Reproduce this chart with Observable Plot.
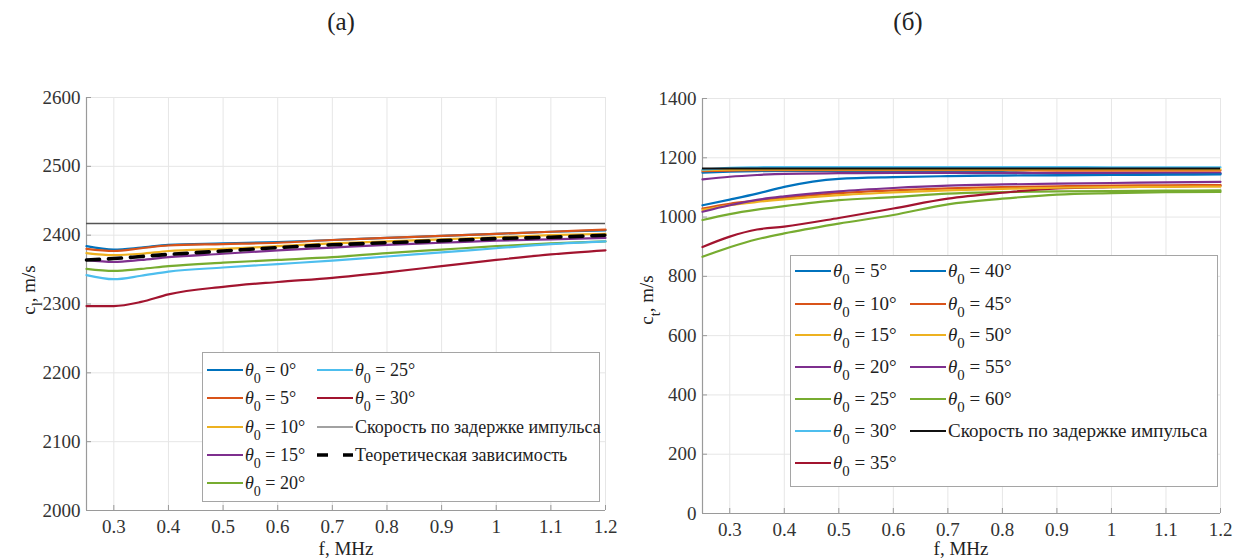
<!DOCTYPE html>
<html>
<head>
<meta charset="utf-8">
<script src="https://cdn.jsdelivr.net/npm/d3@7"></script>
<script src="https://cdn.jsdelivr.net/npm/@observablehq/plot@0.6"></script>
<style>
  body { margin: 0; background: #fff; }
  #root { position: relative; width: 1238px; height: 560px; overflow: hidden;
          font-family: 'Liberation Serif', 'DejaVu Serif', serif; color: #222; }
  .panel { position: absolute; top: 80px; }
  .title { position: absolute; top: 8px; font-size: 25px; transform: translateX(-50%); }
  .ylab { position: absolute; font-size: 19px; white-space: nowrap;
          transform: translate(-50%, -50%) rotate(-90deg); }
  .xlab { position: absolute; font-size: 19px; transform: translateX(-50%); white-space: nowrap; }
  .legend { position: absolute; background: #fff; border: 1.5px solid #a5a5a5; box-sizing: border-box; }
  .item { position: absolute; display: flex; align-items: center; height: 28px;
          white-space: nowrap; color: #222; }
  .item svg { margin-right: 2px; flex: none; }
  sub { font-size: 0.78em; vertical-align: -0.5em; line-height: 0; }
</style>
</head>
<body>
<div id="root"></div>
<script>
// Frequency grid (MHz) shared by every curve
const freq = [0.25, 0.3, 0.35, 0.4, 0.5, 0.6, 0.7, 0.8, 0.9, 1.0, 1.1, 1.2];

// (а) longitudinal velocity c_l, m/s, per incidence angle θ0
const cl_0  = [2384, 2379, 2382, 2386, 2388, 2390, 2393, 2396, 2399, 2402, 2405, 2407];
const cl_5  = [2380, 2377, 2381, 2385, 2387, 2389, 2393, 2396, 2399, 2402, 2405, 2408];
const cl_10 = [2374, 2371, 2373, 2377, 2380, 2384, 2388, 2391, 2394, 2397, 2400, 2402];
const cl_15 = [2364, 2361, 2364, 2368, 2373, 2378, 2382, 2386, 2389, 2392, 2394, 2396];
const cl_20 = [2351, 2348, 2351, 2355, 2360, 2364, 2368, 2374, 2379, 2384, 2388, 2391];
const cl_25 = [2342, 2336, 2341, 2347, 2353, 2358, 2363, 2369, 2375, 2381, 2387, 2391];
const cl_30 = [2297, 2297, 2303, 2314, 2325, 2332, 2338, 2346, 2355, 2364, 2372, 2378];
const cl_theory = [2364, 2366, 2369, 2372, 2377, 2382, 2386, 2389, 2392, 2395, 2397, 2400];
const cl_pulse = 2417;

// (б) shear velocity c_t, m/s, per incidence angle θ0
const ct_5  = [1150, 1153, 1155, 1156, 1156, 1155, 1154, 1152, 1146, 1142, 1145, 1147];
const ct_10 = [1155, 1157, 1158, 1158, 1158, 1158, 1158, 1158, 1157, 1157, 1157, 1157];
const ct_15 = [1158, 1160, 1161, 1161, 1161, 1161, 1161, 1161, 1161, 1161, 1161, 1161];
const ct_20 = [1127, 1136, 1142, 1146, 1148, 1149, 1149, 1148, 1148, 1148, 1148, 1148];
const ct_25 = [990, 1010, 1025, 1037, 1057, 1067, 1079, 1084, 1087, 1088, 1089, 1090];
const ct_30 = [1160, 1166, 1168, 1169, 1169, 1169, 1169, 1169, 1169, 1168, 1168, 1168];
const ct_35 = [899, 934, 958, 968, 997, 1029, 1062, 1082, 1097, 1101, 1103, 1106];
const ct_40 = [1040, 1059, 1079, 1102, 1129, 1135, 1138, 1140, 1141, 1142, 1143, 1144];
const ct_45 = [1029, 1045, 1055, 1065, 1081, 1090, 1097, 1101, 1104, 1106, 1107, 1108];
const ct_50 = [1024, 1040, 1051, 1060, 1074, 1083, 1090, 1095, 1099, 1101, 1102, 1103];
const ct_55 = [1018, 1040, 1058, 1070, 1087, 1098, 1106, 1110, 1113, 1115, 1117, 1119];
const ct_60 = [866, 898, 925, 945, 978, 1007, 1043, 1062, 1076, 1081, 1084, 1085];
const ct_pulse = 1164;

// Axis ticks
const xTicks = [0.3, 0.4, 0.5, 0.6, 0.7, 0.8, 0.9, 1.0, 1.1, 1.2];
const yTicksL = [2000, 2100, 2200, 2300, 2400, 2500, 2600];
const yTicksR = [0, 200, 400, 600, 800, 1000, 1200, 1400];

// MATLAB default line colours
const palette = ["#0072BD", "#D95319", "#EDB120", "#7E2F8E", "#77AC30", "#4DBEEE", "#A2142F"];

const seriesL = [
  {angle: 0, values: cl_0}, {angle: 5, values: cl_5}, {angle: 10, values: cl_10},
  {angle: 15, values: cl_15}, {angle: 20, values: cl_20}, {angle: 25, values: cl_25},
  {angle: 30, values: cl_30}
].map((s, i) => ({...s, color: palette[i % 7]}));

const seriesR = [
  {angle: 5, values: ct_5}, {angle: 10, values: ct_10}, {angle: 15, values: ct_15},
  {angle: 20, values: ct_20}, {angle: 25, values: ct_25}, {angle: 30, values: ct_30},
  {angle: 35, values: ct_35}, {angle: 40, values: ct_40}, {angle: 45, values: ct_45},
  {angle: 50, values: ct_50}, {angle: 55, values: ct_55}, {angle: 60, values: ct_60}
].map((s, i) => ({...s, color: palette[i % 7]}));

const rows = (vals) => freq.map((f, i) => ({f, c: vals[i]}));
const fmt = d => String(+d.toFixed(2));
const FONT = "'Liberation Serif', 'DejaVu Serif', serif";

function panel({width, height, margin, yDomain, yTicks, series, extra}) {
  const innerW = width - margin.left - margin.right;
  const innerH = height - margin.top - margin.bottom;
  return Plot.plot({
    width, height,
    marginLeft: margin.left, marginRight: margin.right,
    marginTop: margin.top, marginBottom: margin.bottom,
    x: {domain: [0.25, 1.2]},
    y: {domain: yDomain},
    style: {fontFamily: FONT, fontSize: "19px", color: "#333", background: "transparent"},
    marks: [
      Plot.gridX(xTicks, {stroke: "#e6e6e6", strokeOpacity: 1}),
      Plot.gridY(yTicks, {stroke: "#e6e6e6", strokeOpacity: 1}),
      Plot.ruleX([0.25], {stroke: "#9a9a9a", strokeWidth: 1.2}),
      Plot.ruleY([yDomain[0]], {stroke: "#9a9a9a", strokeWidth: 1.2}),
      Plot.tickX(xTicks, {x: d => d, insetTop: innerH - 5, stroke: "#9a9a9a"}),
      Plot.tickY(yTicks, {y: d => d, insetRight: innerW - 5, stroke: "#9a9a9a"}),
      Plot.axisX(xTicks, {tickSize: 0, tickPadding: 9, label: null, tickFormat: fmt, fontFamily: FONT}),
      Plot.axisY(yTicks, {tickSize: 0, tickPadding: 6, label: null, tickFormat: d => String(d), fontFamily: FONT}),
      ...extra.before,
      ...series.map(s => Plot.line(rows(s.values), {
        x: "f", y: "c", stroke: s.color, strokeWidth: 2.2, curve: "monotone-x"
      })),
      ...extra.after
    ]
  });
}

const root = document.getElementById("root");

// (а)
const left = panel({
  width: 619, height: 480,
  margin: {left: 86, right: 14, top: 17, bottom: 50},
  yDomain: [2000, 2600], yTicks: yTicksL, series: seriesL,
  extra: {
    before: [Plot.ruleY([cl_pulse], {stroke: "#555", strokeWidth: 1.6})],
    after: [Plot.line(rows(cl_theory), {x: "f", y: "c", stroke: "#000", strokeWidth: 3.6,
      strokeDasharray: "13,9", curve: "monotone-x"})]
  }
});
left.classList.add("panel");
left.style.left = "0px";
root.appendChild(left);

// (б)
const right = panel({
  width: 619, height: 480,
  margin: {left: 83, right: 18, top: 18, bottom: 47},
  yDomain: [0, 1400], yTicks: yTicksR, series: seriesR,
  extra: {
    before: [],
    after: [Plot.ruleY([ct_pulse], {stroke: "#111", strokeWidth: 2})]
  }
});
right.classList.add("panel");
right.style.left = "619px";
root.appendChild(right);

// Titles and axis labels
function addDiv(cls, html, style) {
  const d = document.createElement("div");
  d.className = cls;
  d.innerHTML = html;
  Object.assign(d.style, style);
  root.appendChild(d);
  return d;
}
addDiv("title", "(а)", {left: "341px"});
addDiv("title", "(б)", {left: "908px"});
addDiv("ylab", "c<sub>l</sub>, m/s", {left: "29px", top: "290px"});
addDiv("ylab", "c<sub>t</sub>, m/s", {left: "647px", top: "300px"});
addDiv("xlab", "f, MHz", {left: "346px", top: "538px"});
addDiv("xlab", "f, MHz", {left: "961px", top: "538px"});

// Legends
const thetaLabel = a => `<i>θ</i><sub>0</sub>&nbsp;= ${a}°`;
function swatch(color, width, dash) {
  return `<svg width="36" height="10"><line x1="0" x2="36" y1="5" y2="5" stroke="${color}" stroke-width="${width}"${dash ? ` stroke-dasharray="${dash}"` : ""}/></svg>`;
}
function legend(box, entries) {
  const el = addDiv("legend", "", {left: box.left + "px", top: box.top + "px",
    width: box.width + "px", height: box.height + "px"});
  entries.forEach(e => {
    const it = document.createElement("div");
    it.className = "item";
    it.style.fontSize = box.fontSize + "px";
    it.innerHTML = swatch(e.color, e.width || 2.2, e.dash) + `<span>${e.label}</span>`;
    it.style.left = box.cols[e.col] + "px";
    it.style.top = (box.rows[e.row] - 14) + "px";
    el.appendChild(it);
  });
}

legend({left: 202, top: 352, width: 398, height: 150, fontSize: 18,
        cols: [4, 114], rows: [17, 45, 74, 102, 130]}, [
  ...seriesL.map((s, i) => ({label: thetaLabel(s.angle), color: s.color,
    col: i < 5 ? 0 : 1, row: i < 5 ? i : i - 5})),
  {label: "Скорость по задержке импульса", color: "#444", width: 1.2, col: 1, row: 2},
  {label: "Теоретическая зависимость", color: "#000", width: 3.6, dash: "11,15", col: 1, row: 3}
]);

legend({left: 790, top: 255, width: 428, height: 232, fontSize: 19,
        cols: [4, 119], rows: [15, 48, 79, 111, 143, 175, 207]}, [
  ...seriesR.map((s, i) => ({label: thetaLabel(s.angle), color: s.color,
    col: i < 7 ? 0 : 1, row: i < 7 ? i : i - 7})),
  {label: "Скорость по задержке импульса", color: "#111", width: 2, col: 1, row: 5}
]);
</script>
</body>
</html>
